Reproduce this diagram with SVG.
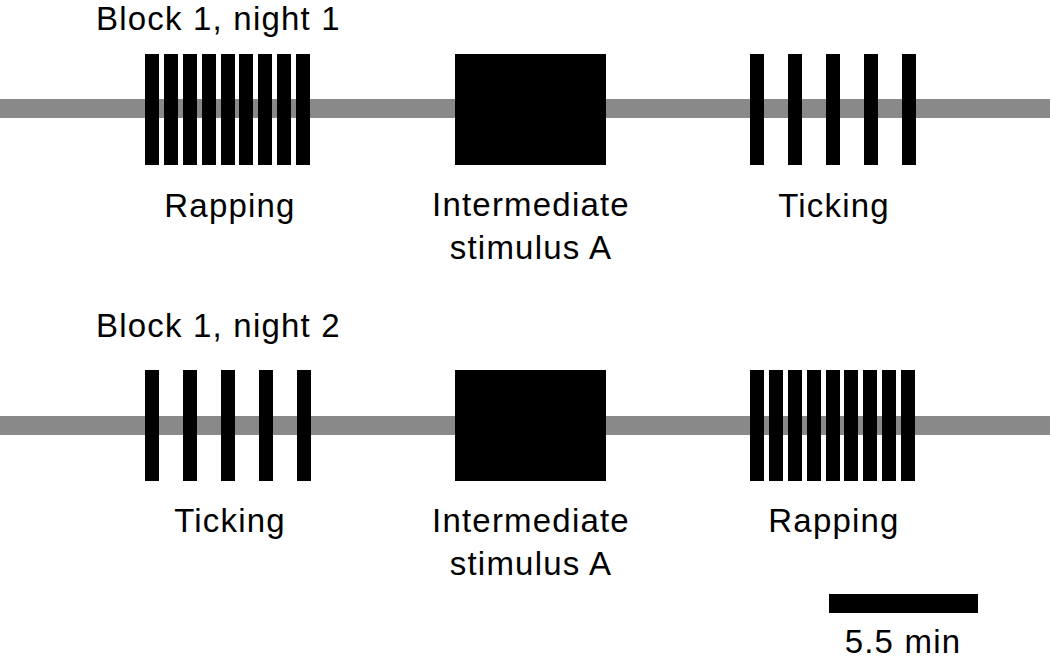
<svg xmlns="http://www.w3.org/2000/svg" width="1050" height="660" viewBox="0 0 1050 660">
<style>
text{font-family:"Liberation Sans",Arial,sans-serif;font-size:33px;fill:#000;letter-spacing:1.2px}
.c{text-anchor:middle}
.line{fill:#898989}
.b{fill:#000}
</style>
<defs>
<g id="rap">
<rect class="b" x="0" y="0" width="14" height="111"/>
<rect class="b" x="19" y="0" width="14" height="111"/>
<rect class="b" x="38" y="0" width="14" height="111"/>
<rect class="b" x="57" y="0" width="14" height="111"/>
<rect class="b" x="76" y="0" width="14" height="111"/>
<rect class="b" x="94" y="0" width="14" height="111"/>
<rect class="b" x="113" y="0" width="14" height="111"/>
<rect class="b" x="132" y="0" width="14" height="111"/>
<rect class="b" x="151" y="0" width="14" height="111"/>
</g>
<g id="tick">
<rect class="b" x="0" y="0" width="14" height="111"/>
<rect class="b" x="38" y="0" width="14" height="111"/>
<rect class="b" x="76" y="0" width="14" height="111"/>
<rect class="b" x="114" y="0" width="14" height="111"/>
<rect class="b" x="152" y="0" width="14" height="111"/>
</g>
</defs>
<g id="connectors">
<rect class="line" x="0" y="99" width="1050" height="19"/>
<rect class="line" x="0" y="416" width="1050" height="19"/>
</g>
<g id="row1-title"><text x="96" y="30">Block 1, night 1</text></g>
<g id="row1-rapping"><use href="#rap" x="145" y="54"/><text class="c" x="230" y="217">Rapping</text></g>
<g id="row1-intermediate"><rect class="b" x="455" y="54" width="151" height="111"/><text class="c" x="531" y="216">Intermediate</text><text class="c" x="531" y="259">stimulus A</text></g>
<g id="row1-ticking"><use href="#tick" x="750" y="54"/><text class="c" x="834" y="217">Ticking</text></g>
<g id="row2-title"><text x="96" y="337">Block 1, night 2</text></g>
<g id="row2-ticking"><use href="#tick" x="145" y="370"/><text class="c" x="230" y="532">Ticking</text></g>
<g id="row2-intermediate"><rect class="b" x="455" y="370" width="151" height="111"/><text class="c" x="531" y="532">Intermediate</text><text class="c" x="531" y="575">stimulus A</text></g>
<g id="row2-rapping"><use href="#rap" x="750" y="370"/><text class="c" x="834" y="532">Rapping</text></g>
<g id="scalebar"><rect class="b" x="829" y="594" width="149" height="19"/><text class="c" x="903" y="653">5.5 min</text></g>
</svg>
